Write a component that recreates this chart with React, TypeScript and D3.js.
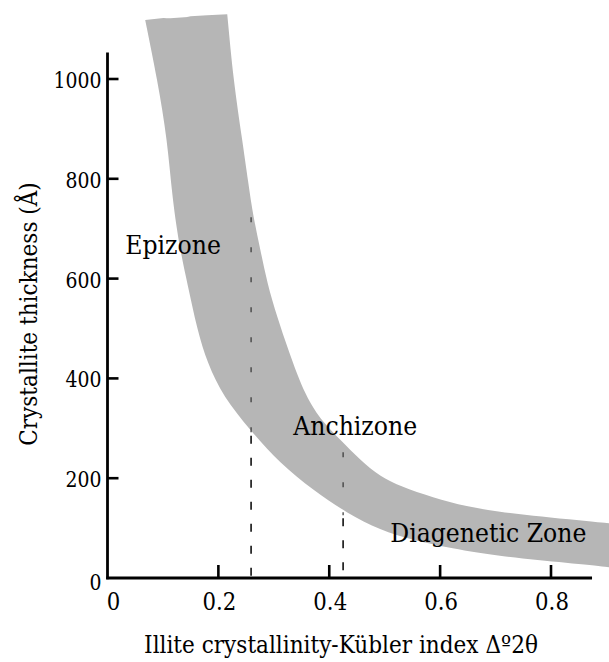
import React from "react";
import * as d3 from "d3";

// ---- data ----
// Outer (upper-right) edge of the grey band: [Kübler index, thickness Å]
const outerEdge: [number, number][] = [
  [0.216, 1130], [0.227, 998], [0.243, 878], [0.254, 792], [0.263, 723],
  [0.276, 657], [0.288, 591], [0.306, 523], [0.326, 457], [0.357, 363],
  [0.389, 311], [0.42, 277], [0.456, 236], [0.492, 203], [0.528, 184],
  [0.587, 161], [0.648, 143], [0.708, 132], [0.768, 125], [0.829, 118], [0.91, 109],
];
// Inner (lower-left) edge of the grey band
const innerEdge: [number, number][] = [
  [0.068, 1118], [0.09, 998], [0.108, 878], [0.117, 758], [0.131, 657],
  [0.144, 591], [0.162, 497], [0.18, 431], [0.209, 363], [0.257, 297],
  [0.311, 230], [0.371, 176], [0.432, 130], [0.492, 96], [0.551, 76],
  [0.618, 60], [0.714, 42], [0.834, 30], [0.91, 21],
];
// Ragged top edge (right to left)
const topEdge: [number, number][] = [
  [0.216, 1130], [0.18, 1128], [0.15, 1126], [0.126, 1120], [0.101, 1122], [0.068, 1118],
];
const xTicks = [0.2, 0.4, 0.6, 0.8];
const xTickLabels = ["0", "0.2", "0.4", "0.6", "0.8"];
const xLabelValues = [0, 0.2, 0.4, 0.6, 0.8];
const yTicks = [200, 400, 600, 800, 1000];
const yTickLabels = ["0", "200", "400", "600", "800", "1000"];
const yLabelValues = [0, 200, 400, 600, 800, 1000];
// Zone boundaries (dashed lines)
const dividerX = [0.259, 0.425];
const dividerTop = [723, 252];
const dividerMid = [291, 126];
const zoneNames = ["Epizone", "Anchizone", "Diagenetic Zone"];
const zoneAnchor: [number, number][] = [[0.032, 650], [0.335, 286], [0.51, 72]];

const xTitle = "Illite crystallinity-Kübler index Δº2θ";
const yTitle = "Crystallite thickness (Å)";

const W = 609;
const H = 662;
const FONT = "'DejaVu Serif', 'Liberation Serif', serif";

type STextProps = {
  x: number;
  y: number;
  size: number;
  sx: number;
  anchor?: "start" | "middle" | "end";
  rotate?: number;
  children: React.ReactNode;
};

function SText({ x, y, size, sx, anchor = "start", rotate = 0, children }: STextProps) {
  return (
    <text
      transform={`translate(${x},${y}) rotate(${rotate}) scale(${sx},1)`}
      textAnchor={anchor}
      fontSize={size}
      fill="#000"
      style={{ fontFamily: FONT }}
    >
      {children}
    </text>
  );
}

export default function App() {
  const x = d3.scaleLinear().domain([0, 0.8]).range([107.5, 551]);
  const y = d3.scaleLinear().domain([0, 1000]).range([578, 79]);

  const line = d3
    .line<[number, number]>()
    .x((d) => x(d[0]))
    .y((d) => y(d[1]))
    .curve(d3.curveBasis);
  const lin = d3
    .line<[number, number]>()
    .x((d) => x(d[0]))
    .y((d) => y(d[1]));

  const bandPath =
    (line(outerEdge) || "") +
    (line([...innerEdge].reverse()) || "").replace(/^M/, "L") +
    (lin(topEdge) || "").replace(/^M/, "L") +
    "Z";

  const axisX0 = x(0);
  const axisY0 = y(0);
  const axisXEnd = x(0.874);
  const axisYTop = y(1053);

  return (
    <svg
      width={W}
      height={H}
      style={{ position: "absolute", left: 0, top: 0, background: "#fff", fontFamily: FONT }}
    >
      <rect x={0} y={0} width={W} height={H} fill="#fff" />
      <path d={bandPath} fill="#b6b6b6" stroke="none" />

      {/* dashed zone boundaries */}
      {dividerX.map((dx, i) => (
        <g key={"div" + i}>
          <line
            x1={x(dx)}
            x2={x(dx)}
            y1={y(dividerTop[i])}
            y2={y(dividerMid[i])}
            stroke="#333"
            strokeWidth={1.2}
            strokeDasharray="5,25"
          />
          <line
            x1={x(dx)}
            x2={x(dx)}
            y1={y(dividerMid[i]) + 3}
            y2={axisY0}
            stroke="#111"
            strokeWidth={1.6}
            strokeDasharray="8,14"
          />
        </g>
      ))}

      {/* axes */}
      <line x1={axisX0} x2={axisX0} y1={axisYTop} y2={axisY0 + 1.3} stroke="#000" strokeWidth={2.8} />
      <line x1={axisX0 - 1.3} x2={axisXEnd} y1={axisY0} y2={axisY0} stroke="#000" strokeWidth={2.8} />
      {yTicks.map((t) => (
        <line key={"yt" + t} x1={axisX0} x2={axisX0 + 11} y1={y(t)} y2={y(t)} stroke="#000" strokeWidth={2.6} />
      ))}
      {xTicks.map((t) => (
        <line key={"xt" + t} x1={x(t)} x2={x(t)} y1={axisY0} y2={axisY0 - 13} stroke="#000" strokeWidth={2.6} />
      ))}

      {/* tick labels */}
      {yLabelValues.map((v, i) => (
        <SText key={"yl" + v} x={axisX0 - 6} y={y(v) + (v === 0 ? 12 : 9)} size={23} sx={0.82} anchor="end">
          {yTickLabels[i]}
        </SText>
      ))}
      {xLabelValues.map((v, i) => (
        <SText key={"xl" + v} x={x(v) + (v === 0 ? 6 : 1)} y={610} size={25} sx={0.85} anchor="middle">
          {xTickLabels[i]}
        </SText>
      ))}

      {/* zone labels */}
      {zoneNames.map((n, i) => (
        <SText key={n} x={x(zoneAnchor[i][0])} y={y(zoneAnchor[i][1])} size={26.5} sx={0.89}>
          {n}
        </SText>
      ))}

      {/* axis titles */}
      <SText x={341} y={653} size={24} sx={0.9} anchor="middle">
        {xTitle}
      </SText>
      <SText x={37} y={314} size={24} sx={0.9} anchor="middle" rotate={-90}>
        {yTitle}
      </SText>
    </svg>
  );
}
